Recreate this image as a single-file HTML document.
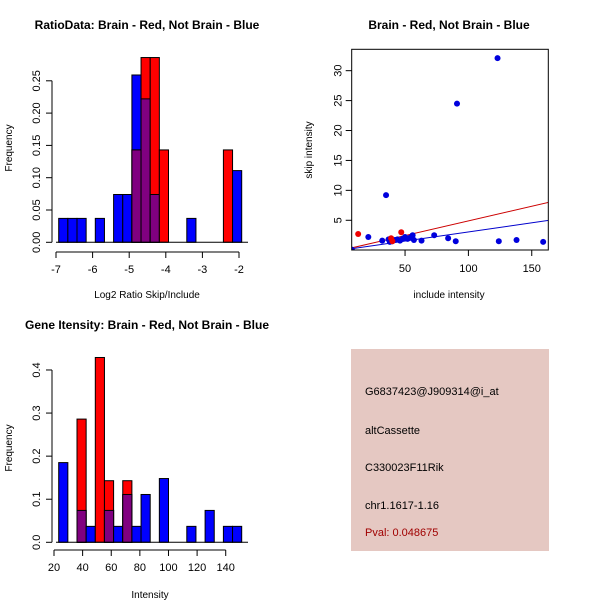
<!DOCTYPE html>
<html><head><meta charset="utf-8"><style>
body{margin:0;background:#fff;width:600px;height:600px;overflow:hidden}
svg text{font-family:"Liberation Sans",sans-serif;fill:#000}
</style></head><body>
<svg id="s" width="600" height="600" xmlns="http://www.w3.org/2000/svg">
<rect x="351" y="349" width="198" height="202" fill="#e5c8c2"/>
<text x="365" y="395" font-size="11">G6837423@J909314@i_at</text>
<text x="365" y="434" font-size="11">altCassette</text>
<text x="365" y="471" font-size="11">C330023F11Rik</text>
<text x="365" y="509" font-size="11">chr1.1617-1.16</text>
<text x="365" y="536" font-size="11" style="fill:#a00000">Pval: 0.048675</text>
</svg>
<script>
// Histogram 1: log2 ratio
const h1Blue=[0.037,0.037,0.037,0,0.037,0,0.074,0.074,0.259,0.222,0.074,0,0,0,0.037,0,0,0,0,0.111];
const h1Red=[0,0,0,0,0,0,0,0,0.143,0.286,0.286,0.143,0,0,0,0,0,0,0.143,0];
const h1Ticks=[-7,-6,-5,-4,-3,-2];
const h1YTicks=["0.00","0.05","0.10","0.15","0.20","0.25"];
// Histogram 2: intensity
const h2Blue=[0.185,0,0.074,0.037,0,0.074,0.037,0.111,0.037,0.111,0,0.148,0,0,0.037,0,0.074,0,0.037,0.037];
const h2Red=[0,0,0.286,0,0.429,0.143,0,0.143,0,0,0,0,0,0,0,0,0,0,0,0];
const h2Ticks=[20,40,60,80,100,120,140];
const h2YTicks=["0.0","0.1","0.2","0.3","0.4"];
// Scatter
const blueX=[8,21,32,35,37,38,40,42,44,46,48,50,52,54,56,57,63,73,84,90,91,123,124,138,159];
const blueY=[0.1,2.2,1.6,9.2,1.8,1.4,1.5,1.7,1.8,1.6,1.9,2.2,1.9,2.1,2.5,1.7,1.6,2.5,2.0,1.5,24.5,32.1,1.5,1.7,1.4];
const redX=[13,39,40,47];
const redY=[2.7,2.0,1.5,3.0];
const redLine=[0,0.049];
const blueLine=[0,0.0305];
const scXTicks=[50,100,150];
const scYTicks=[5,10,15,20,25,30];

const s=document.getElementById('s');
const NS='http://www.w3.org/2000/svg';
function mk(tag,attrs,txt){const e=document.createElementNS(NS,tag);for(const k in attrs)e.setAttribute(k,attrs[k]);if(txt!==undefined)e.textContent=txt;s.appendChild(e);return e;}

function hist(blue,red,x0,bw,y0,ppu,nameP){
  blue.forEach((b,i)=>{const r=red[i];const x=x0+i*bw;
    if(b>0){const e=mk('rect',{x:x,y:y0-b*ppu,width:bw,height:b*ppu,fill:'#0000ff',stroke:'#000','stroke-width':1});
      
      }
    if(r>0){const e=mk('rect',{x:x,y:y0-r*ppu,width:bw,height:r*ppu,fill:'#ff0000',stroke:'#000','stroke-width':1});
      
      }
    if(r>0&&b>0){const m=Math.min(r,b);const e=mk('rect',{x:x,y:y0-m*ppu,width:bw,height:m*ppu,fill:'#800080',stroke:'#000','stroke-width':1});
      
      }
  });
}
function yaxis(x,y0,ppu,ticks,step,nameP){
  const top=y0-(ticks.length-1)*step*ppu;
  mk('line',{x1:x,y1:y0,x2:x,y2:top,stroke:'#000'});
  ticks.forEach((t,i)=>{const y=y0-i*step*ppu;mk('line',{x1:x-6,y1:y,x2:x,y2:y,stroke:'#000'});
    const e=mk('text',{x:0,y:0,'font-size':11,'text-anchor':'middle',transform:`translate(${x-12},${y}) rotate(-90)`},t);
    
    });
}
function xaxis(y,ticks,fx,nameP){
  mk('line',{x1:fx(ticks[0]),y1:y,x2:fx(ticks[ticks.length-1]),y2:y,stroke:'#000'});
  ticks.forEach(t=>{const x=fx(t);mk('line',{x1:x,y1:y,x2:x,y2:y+6,stroke:'#000'});
    const e=mk('text',{x:x,y:y+21,'font-size':11,'text-anchor':'middle'},String(t));
    
    });
}
function label(x,y,t,name,rot,bold,size){
  const a={x:x,y:y,'font-size':size||11,'text-anchor':'middle'};
  if(rot){a.x=0;a.y=0;a.transform=`translate(${x},${y}) rotate(-90)`;}
  if(bold)a['font-weight']='bold';
  const e=mk('text',a,t);
  
  
}
// Panel 1
const p1ppu=646, p1y0=242.3, p1x=v=>56+(v+7)*36.6;
hist(h1Blue,h1Red,58.7,9.15,p1y0,p1ppu,'ratio');
mk('line',{x1:56,y1:p1y0,x2:248,y2:p1y0,stroke:'#000'});
yaxis(52,p1y0,p1ppu,h1YTicks,0.05,'ratio');
xaxis(252,h1Ticks,p1x,'ratio');
label(147,29,'RatioData: Brain - Red, Not Brain - Blue','ratio-title',false,true,12);
label(147,298,'Log2 Ratio Skip/Include','ratio-x-axis-title',false,false,10);
label(12,148,'Frequency','ratio-y-axis-title',true,false,10);
// Panel 2
const p2ppu=430.8, p2y0=542.3, p2x=v=>54+(v-20)*1.431;
hist(h2Blue,h2Red,58.7,9.15,p2y0,p2ppu,'intensity');
mk('line',{x1:56,y1:p2y0,x2:248,y2:p2y0,stroke:'#000'});
yaxis(52,p2y0,p2ppu,h2YTicks,0.1,'intensity');
xaxis(550,h2Ticks,p2x,'intensity');
label(147,329,'Gene Itensity: Brain - Red, Not Brain - Blue','intensity-title',false,true,12);
label(150,598,'Intensity','intensity-x-axis-title',false,false,10);
label(12,448,'Frequency','intensity-y-axis-title',true,false,10);
// Panel 3 scatter
const sx=v=>341.7+v*1.267, sy=v=>250.2-v*5.984;
const clip=mk('clipPath',{id:'cp'});clip.appendChild(document.createElementNS(NS,'rect'));
const cr=clip.firstChild;cr.setAttribute('x',351.7);cr.setAttribute('y',49.3);cr.setAttribute('width',196.6);cr.setAttribute('height',200.7);
[[redLine,'#cc0000','red-fit-line'],[blueLine,'#0000cc','blue-fit-line']].forEach(([L,c,n])=>{
  const e=mk('line',{x1:sx(0),y1:sy(L[0]),x2:sx(170),y2:sy(L[0]+L[1]*170),stroke:c,'clip-path':'url(#cp)'});
  
  });
blueX.forEach((x,i)=>{const e=mk('circle',{cx:sx(x),cy:sy(blueY[i]),r:3,fill:'#0000dd','clip-path':'url(#cp)'});
  
  });
redX.forEach((x,i)=>{const e=mk('circle',{cx:sx(x),cy:sy(redY[i]),r:3,fill:'#ee0000'});
  
  });
mk('rect',{x:351.7,y:49.3,width:196.6,height:200.7,fill:'none',stroke:'#000'});
scXTicks.forEach(t=>{const x=sx(t);mk('line',{x1:x,y1:250,x2:x,y2:256,stroke:'#000'});
  const e=mk('text',{x:x,y:272,'font-size':11,'text-anchor':'middle'},String(t));
  
  });
scYTicks.forEach(t=>{const y=sy(t);mk('line',{x1:345.7,y1:y,x2:351.7,y2:y,stroke:'#000'});
  const e=mk('text',{x:0,y:0,'font-size':11,'text-anchor':'middle',transform:`translate(${341.7},${y}) rotate(-90)`},String(t));
  
  });
label(449,29,'Brain - Red, Not Brain - Blue','scatter-title',false,true,12);
label(449,298,'include intensity','scatter-x-axis-title',false,false,10);
label(312,150,'skip intensity','scatter-y-axis-title',true,false,10);
</script>
</body></html>
